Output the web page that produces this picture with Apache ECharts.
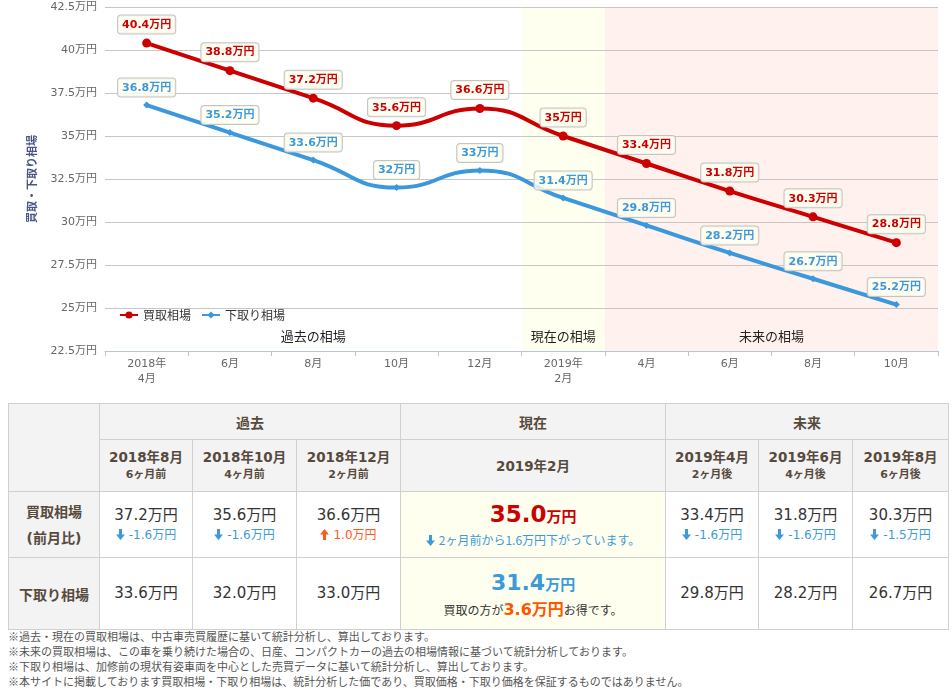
<!DOCTYPE html>
<html><head><meta charset="utf-8">
<script src="https://cdn.jsdelivr.net/npm/echarts@6/dist/echarts.min.js"></script>
<style>
body{margin:0;background:#fff;font-family:'DejaVu Sans','Noto Sans CJK JP',sans-serif;}
#chart{position:absolute;left:0;top:0;width:952px;height:400px;}
#tbl{position:absolute;left:8px;top:403px;width:940px;border-collapse:collapse;table-layout:fixed;}
#tbl td{border:1px solid #d0d0d0;text-align:center;vertical-align:middle;padding:0;color:#333;}
#tbl td.h{background:#f3f3f3;color:#574a3d;font-weight:bold;}
#tbl td.cur{background:#fffff0;}
.d{font-size:13.5px;font-weight:bold;line-height:18px;}
.s{font-size:11px;font-weight:bold;line-height:18px;}
.v{font-size:15px;line-height:21px;}
.c{font-size:12px;line-height:18px;}
#notes{position:absolute;left:8px;top:629px;font-size:11px;line-height:15px;color:#555;font-family:'Noto Sans CJK JP',sans-serif;}
</style></head>
<body>
<div id="chart"></div>
<table id="tbl"></table>
<div id="notes"></div>
<script>
const categories = ['2018年\n4月','6月','8月','10月','12月','2019年\n2月','4月','6月','8月','10月'];
const kaitori = [40.4, 38.8, 37.2, 35.6, 36.6, 35, 33.4, 31.8, 30.3, 28.8];
const shitadori = [36.8, 35.2, 33.6, 32, 33, 31.4, 29.8, 28.2, 26.7, 25.2];
const seriesNames = ['買取相場', '下取り相場'];
const periodNames = ['過去の相場', '現在の相場', '未来の相場'];
const periodRanges = [[0, 4], [5, 5], [6, 9]];
const yMin = 22.5, yMax = 42.5, yStep = 2.5;
const tableGroups = ['過去', '現在', '未来'];
const tableIndex = [2, 3, 4, 5, 6, 7, 8];
const tableMonths = ['2018年8月','2018年10月','2018年12月','2019年2月','2019年4月','2019年6月','2019年8月'];
const tableOffsets = ['6ヶ月前','4ヶ月前','2ヶ月前','','2ヶ月後','4ヶ月後','6ヶ月後'];
const rowLabels = ['買取相場<br>(前月比)', '下取り相場'];
const footnotes = [
 '※過去・現在の買取相場は、中古車売買履歴に基いて統計分析し、算出しております。',
 '※未来の買取相場は、この車を乗り続けた場合の、日産、コンパクトカーの過去の相場情報に基づいて統計分析しております。',
 '※下取り相場は、加修前の現状有姿車両を中心とした売買データに基いて統計分析し、算出しております。',
 '※本サイトに掲載しております買取相場・下取り相場は、統計分析した価であり、買取価格・下取り価格を保証するものではありません。'
];

const RED = '#cc0000', BLUE = '#3b98dc';
const periodColors = ['rgba(0,0,0,0)', '#fffff0', '#fff1ed'];
const bandData = categories.map((c, i) => {
  const p = periodRanges.findIndex(r => i >= r[0] && i <= r[1]);
  return {value: 1, itemStyle: {color: periodColors[p]}};
});
const chart = echarts.init(document.getElementById('chart'));
const lbl = (color) => ({
  show: true, position: 'top', distance: 5, formatter: '{c}万円',
  color: color, fontWeight: 'bold', fontSize: 11, fontFamily: 'DejaVu Sans, Noto Sans CJK JP',
  backgroundColor: 'rgba(255,255,240,0.8)', borderColor: '#c4c4c4', borderWidth: 1,
  borderRadius: 3, padding: [4, 4, 3, 4]
});
chart.setOption({
  animation: false,
  textStyle: {fontFamily: 'DejaVu Sans, Noto Sans CJK JP'},
  grid: {left: 105, right: 14, top: 7, bottom: 49},
  legend: {left: 114, top: 304, itemWidth: 18, itemHeight: 9, itemGap: 10,
    textStyle: {fontSize: 12, color: '#333', fontFamily: 'Noto Sans CJK JP'},
    data: seriesNames},
  xAxis: {type: 'category', data: categories, boundaryGap: true,
    axisLine: {lineStyle: {color: '#b7c5d6'}},
    axisTick: {show: true, length: 5, lineStyle: {color: '#b7c5d6'}},
    axisLabel: {interval: 0, color: '#666', fontSize: 11, lineHeight: 15, margin: 6}},
  yAxis: [{type: 'value', min: yMin, max: yMax, interval: yStep,
    name: '買取・下取り相場', nameLocation: 'middle', nameRotate: 90, nameGap: 68,
    nameTextStyle: {fontWeight: 'bold', fontSize: 11, color: '#4a5584', fontFamily: 'Noto Sans CJK JP'},
    axisLine: {show: false}, axisTick: {show: false},
    axisLabel: {formatter: v => v + '万円', color: '#666', fontSize: 11, margin: 8},
    splitLine: {lineStyle: {color: '#c6c6c6'}}},
    {type: 'value', min: 0, max: 1, show: false, splitLine: {show: false}}],
  series: [
    {type: 'bar', yAxisIndex: 1, data: bandData, barWidth: '100%', silent: true, z: -1,
     label: {show: false}, tooltip: {show: false}, legendHoverLink: false},
    {name: seriesNames[0], type: 'line', data: kaitori, smooth: 0.5, z: 3,
     symbol: 'circle', symbolSize: 9, color: RED, lineStyle: {width: 4, color: RED},
     itemStyle: {color: RED}, label: lbl(RED),
     markArea: {silent: true,
       label: {position: 'insideBottom', distance: 8, color: '#222', fontSize: 13, fontFamily: 'Noto Sans CJK JP'},
       data: periodRanges.map((r, i) => [
         {name: periodNames[i], xAxis: r[0], itemStyle: {color: 'rgba(0,0,0,0)'}},
         {xAxis: r[1]}
       ])}},
    {name: seriesNames[1], type: 'line', data: shitadori, smooth: 0.5, z: 2,
     symbol: 'diamond', symbolSize: 7, color: BLUE, lineStyle: {width: 4, color: BLUE},
     itemStyle: {color: BLUE}, label: lbl(BLUE)}
  ]
});

// table
function arrow(up, color) {
  const d = up ? 'M4.5 0L9 5.5H6V11H3V5.5H0z' : 'M3 0H6V5.5H9L4.5 11L0 5.5H3z';
  return `<svg width="9" height="11" viewBox="0 0 9 11" style="vertical-align:-1px;margin-right:4px"><path d="${d}" fill="${color}"/></svg>`;
}
const f1 = v => v.toFixed(1);
const widths = [91, 93, 104, 104, 265, 93, 94, 96];
let html = '<colgroup>' + widths.map(w => `<col style="width:${w}px">`).join('') + '</colgroup>';
html += `<tr style="height:36px"><td class="h" rowspan="2"></td>
 <td class="h" colspan="3" style="font-size:14px">${tableGroups[0]}</td>
 <td class="h" style="font-size:14px">${tableGroups[1]}</td>
 <td class="h" colspan="3" style="font-size:14px">${tableGroups[2]}</td></tr>`;
html += '<tr style="height:52px">' + tableIndex.map((idx, k) =>
  `<td class="h"><div class="d">${tableMonths[k]}</div>${tableOffsets[k] ? `<div class="s">${tableOffsets[k]}</div>` : ''}</td>`).join('') + '</tr>';
const curK = 3;
html += `<tr style="height:66px"><td class="h" style="font-size:14px;line-height:26px">${rowLabels[0]}</td>` + tableIndex.map((idx, k) => {
  const diff = kaitori[idx] - kaitori[idx - 1];
  const up = diff > 0;
  const col = up ? '#ff5a1f' : '#3d9ad9';
  if (k === curK) {
    return `<td class="cur"><div style="color:#cc0000;font-weight:bold;line-height:28px"><span style="font-size:23px">${f1(kaitori[idx])}</span><span style="font-size:15px">万円</span></div>
      <div class="c" style="color:#3d9ad9;font-family:'Noto Sans CJK JP'">${arrow(up, '#3d9ad9')}2ヶ月前から${f1(Math.abs(diff))}万円${up ? '上' : '下'}がっています。</div></td>`;
  }
  return `<td><div class="v">${f1(kaitori[idx])}万円</div><div class="c" style="color:${col}">${arrow(up, col)}${f1(diff)}万円</div></td>`;
}).join('') + '</tr>';
html += `<tr style="height:72px"><td class="h" style="font-size:14px">${rowLabels[1]}</td>` + tableIndex.map((idx, k) => {
  if (k === curK) {
    return `<td class="cur"><div style="color:#3d9ad9;font-weight:bold;line-height:30px"><span style="font-size:22px">${f1(shitadori[idx])}</span><span style="font-size:15px">万円</span></div>
      <div style="font-size:12px;line-height:20px;font-family:'Noto Sans CJK JP'">買取の方が<span style="color:#ff5500;font-weight:bold;font-size:16px;font-family:'DejaVu Sans','Noto Sans CJK JP'">${f1(kaitori[idx] - shitadori[idx])}万円</span>お得です。</div></td>`;
  }
  return `<td><div class="v">${f1(shitadori[idx])}万円</div></td>`;
}).join('') + '</tr>';
document.getElementById('tbl').innerHTML = html;
document.getElementById('notes').innerHTML = footnotes.map(t => `<div>${t}</div>`).join('');
</script>
</body></html>
